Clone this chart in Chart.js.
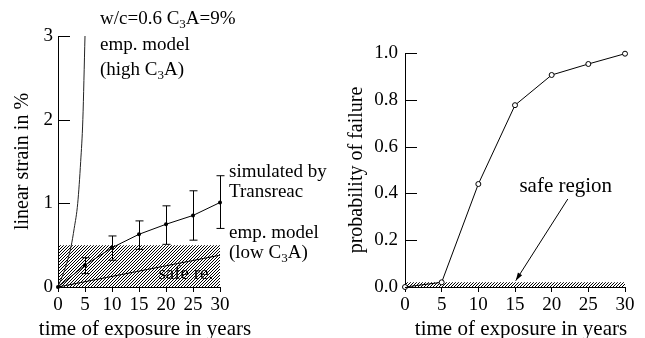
<!DOCTYPE html>
<html>
<head>
<meta charset="utf-8">
<script src="https://cdn.jsdelivr.net/npm/chart.js@4.4.0/dist/chart.umd.min.js"></script>
<style>
  body { margin: 0; background: #fff; }
  #wrap { position: relative; width: 645px; height: 338px; }
  canvas { position: absolute; top: 0; }
  #strainChart { left: 0; }
  #failureChart { left: 330px; }
</style>
</head>
<body>
<div id="wrap">
  <canvas id="strainChart" width="330" height="338"></canvas>
  <canvas id="failureChart" width="315" height="338"></canvas>
</div>
<script>
// exposure times shared by both panels
const years = [0, 5, 10, 15, 20, 25, 30];
const yearTicks = [0, 5, 10, 15, 20, 25, 30];
const xTitle = 'time of exposure in years';

// left panel: linear strain (%)
const simStrain = [0, 0.26, 0.47, 0.63, 0.75, 0.855, 1.01];
const simStrainLow = [0, 0.16, 0.32, 0.45, 0.51, 0.56, 0.70];
const simStrainHigh = [0, 0.35, 0.61, 0.79, 0.97, 1.15, 1.33];
const highC3AYears = [0, 1.2, 2.4, 3.0, 3.65, 4.2, 4.6, 5.0];
const highC3AStrain = [0, 0.2, 0.48, 0.7, 1.0, 1.5, 2.0, 3.0];
const lowC3AYears = [0, 30];
const lowC3AStrain = [0, 0.38];
const strainTicks = [0, 1, 2, 3];
const safeStrain = 0.5;

// right panel: probability of failure
const failProb = [0, 0.02, 0.44, 0.777, 0.906, 0.953, 0.997];
const probTicks = [0, 0.2, 0.4, 0.6, 0.8, 1.0];
const safeProb = 0.02;

const SERIF = '"Liberation Serif", "DejaVu Serif", "Times New Roman", serif';
Chart.defaults.font.family = SERIF;
Chart.defaults.color = '#000';

function pts(xs, ys) {
  return xs.map((x, i) => ({ x: x, y: ys[i] }));
}

// diagonal hatching for the safe regions: one-pixel "/" lines every 3 px
function hatchPattern() {
  const tile = document.createElement('canvas');
  tile.width = 3; tile.height = 3;
  const g = tile.getContext('2d');
  g.fillStyle = '#000';
  for (let i = 0; i < 3; i++) g.fillRect(i, 2 - i, 1, 1);
  return g.createPattern(tile, 'repeat');
}

// text with "3" subscripts (C3A)
function richText(ctx, x, y, segs, size) {
  segs.forEach(([txt, sub]) => {
    ctx.font = (sub ? Math.round(size * 0.7) : size) + 'px ' + SERIF;
    ctx.fillText(txt, x, sub ? y + size * 0.22 : y);
    x += ctx.measureText(txt).width;
  });
}

function xAxis() {
  return {
    type: 'linear', min: 0, max: 30,
    afterBuildTicks: s => { s.ticks = yearTicks.map(v => ({ value: v })); },
    afterFit: s => { s.height = 51; },
    grid: { drawOnChartArea: false, drawTicks: true, tickLength: 5, color: '#000', lineWidth: 1 },
    border: { display: true, color: '#000', width: 1 },
    ticks: { font: { family: SERIF, size: 19 }, padding: 2, maxRotation: 0, autoSkip: false, color: '#000' },
    title: { display: false }
  };
}

// x title drawn by hand so it may run wider than the axis
const xTitlePlugin = {
  id: 'xTitlePlugin',
  afterDraw(chart) {
    const { ctx, chartArea } = chart;
    ctx.save();
    ctx.fillStyle = '#000';
    ctx.font = '21px ' + SERIF;
    ctx.textAlign = 'center';
    ctx.textBaseline = 'alphabetic';
    ctx.fillText(xTitle, (chartArea.left + chartArea.right) / 2 + 6, 335);
    ctx.restore();
  }
};

// y ticks point into the plot
const inwardTicks = {
  id: 'inwardTicks',
  afterDraw(chart) {
    const { ctx, chartArea, scales: { y } } = chart;
    ctx.save();
    ctx.strokeStyle = '#000';
    ctx.lineWidth = 1;
    y.ticks.forEach(t => {
      const py = Math.round(y.getPixelForValue(t.value)) + 0.5;
      ctx.beginPath();
      ctx.moveTo(chartArea.left, py);
      ctx.lineTo(chartArea.left + 12, py);
      ctx.stroke();
    });
    ctx.restore();
  }
};

const errorBars = {
  id: 'errorBars',
  afterDatasetsDraw(chart) {
    const { ctx, scales: { x, y } } = chart;
    ctx.save();
    ctx.strokeStyle = '#000';
    ctx.lineWidth = 1;
    years.forEach((t, i) => {
      if (simStrainHigh[i] === simStrainLow[i]) return;
      const px = Math.round(x.getPixelForValue(t)) + 0.5;
      const top = y.getPixelForValue(simStrainHigh[i]);
      const bot = y.getPixelForValue(simStrainLow[i]);
      ctx.beginPath();
      ctx.moveTo(px, top); ctx.lineTo(px, bot);
      ctx.moveTo(px - 4, top); ctx.lineTo(px + 4, top);
      ctx.moveTo(px - 4, bot); ctx.lineTo(px + 4, bot);
      ctx.stroke();
    });
    ctx.restore();
  }
};

const strainLabels = {
  id: 'strainLabels',
  afterDraw(chart) {
    const { ctx, scales: { x, y } } = chart;
    ctx.save();
    ctx.fillStyle = '#000';
    ctx.textBaseline = 'alphabetic';
    ctx.textAlign = 'left';
    richText(ctx, 100, 24, [['w/c=0.6 C'], ['3', true], ['A=9%']], 19);
    richText(ctx, 100, 50, [['emp. model']], 19);
    richText(ctx, 100, 75, [['(high C'], ['3', true], ['A)']], 19);
    richText(ctx, 229, 177, [['simulated by']], 19);
    richText(ctx, 229, 197, [['Transreac']], 19);
    richText(ctx, 229, 238, [['emp. model']], 19);
    richText(ctx, 229, 258, [['(low C'], ['3', true], ['A)']], 19);
    // label inside the hatched band
    ctx.font = '19px ' + SERIF;
    ctx.fillText('safe re.', x.getPixelForValue(18.6), y.getPixelForValue(0.09));
    ctx.restore();
  }
};

const failureLabels = {
  id: 'failureLabels',
  afterDraw(chart) {
    const { ctx, scales: { x, y } } = chart;
    ctx.save();
    ctx.fillStyle = '#000';
    ctx.strokeStyle = '#000';
    ctx.font = '21px ' + SERIF;
    ctx.textBaseline = 'alphabetic';
    ctx.fillText('safe region', x.getPixelForValue(15.6), y.getPixelForValue(0.407));
    const x0 = x.getPixelForValue(22.2), y0 = y.getPixelForValue(0.376);
    const x1 = x.getPixelForValue(15.1), y1 = y.getPixelForValue(0.027);
    ctx.lineWidth = 1;
    ctx.beginPath(); ctx.moveTo(x0, y0); ctx.lineTo(x1, y1); ctx.stroke();
    const a = Math.atan2(y1 - y0, x1 - x0);
    ctx.beginPath();
    ctx.moveTo(x1, y1);
    ctx.lineTo(x1 - 8 * Math.cos(a) + 2.5 * Math.sin(a), y1 - 8 * Math.sin(a) - 2.5 * Math.cos(a));
    ctx.lineTo(x1 - 8 * Math.cos(a) - 2.5 * Math.sin(a), y1 - 8 * Math.sin(a) + 2.5 * Math.cos(a));
    ctx.closePath();
    ctx.fill();
    ctx.restore();
  }
};

const common = {
  responsive: false,
  animation: false,
  events: [],
  plugins: { legend: { display: false }, tooltip: { enabled: false } }
};

new Chart(document.getElementById('strainChart'), {
  type: 'line',
  data: {
    datasets: [
      {
        data: pts(years, simStrain),
        borderColor: '#000', borderWidth: 1,
        pointRadius: 2, pointBackgroundColor: '#000', pointBorderWidth: 0,
        clip: false
      },
      {
        data: pts(highC3AYears, highC3AStrain),
        borderColor: '#222', borderWidth: 1, pointRadius: 0,
        cubicInterpolationMode: 'monotone', clip: false
      },
      {
        data: pts(lowC3AYears, lowC3AStrain),
        borderColor: '#000', borderWidth: 1, pointRadius: 0
      },
      {
        data: pts([0, 30], [safeStrain, safeStrain]),
        borderWidth: 0, pointRadius: 0,
        fill: 'origin', backgroundColor: hatchPattern()
      }
    ]
  },
  options: Object.assign({}, common, {
    layout: { padding: { top: 36, right: 110, left: 0, bottom: 0 } },
    scales: {
      x: xAxis(),
      y: {
        type: 'linear', min: 0, max: 3,
        afterBuildTicks: s => { s.ticks = strainTicks.map(v => ({ value: v })); },
        afterFit: s => { s.width = 58; },
        grid: { display: false, drawTicks: false },
        border: { display: true, color: '#000', width: 1 },
        ticks: { font: { family: SERIF, size: 19 }, padding: 5, color: '#000' },
        title: { display: true, text: 'linear strain in %', font: { family: SERIF, size: 20, lineHeight: 1 },
                 padding: { top: 13, bottom: 0 }, color: '#000' }
      }
    }
  }),
  plugins: [errorBars, inwardTicks, strainLabels, xTitlePlugin]
});

new Chart(document.getElementById('failureChart'), {
  type: 'line',
  data: {
    datasets: [
      {
        data: pts(years, failProb),
        borderColor: '#000', borderWidth: 1,
        pointRadius: 2.5, pointBackgroundColor: '#fff', pointBorderColor: '#000', pointBorderWidth: 1,
        clip: false
      },
      {
        data: pts([0, 30], [safeProb, safeProb]),
        borderWidth: 0, pointRadius: 0,
        fill: 'origin', backgroundColor: hatchPattern()
      }
    ]
  },
  options: Object.assign({}, common, {
    layout: { padding: { top: 53, right: 20, left: 0, bottom: 0 } },
    scales: {
      x: xAxis(),
      y: {
        type: 'linear', min: 0, max: 1,
        afterBuildTicks: s => { s.ticks = probTicks.map(v => ({ value: v })); },
        afterFit: s => { s.width = 75; },
        grid: { display: false, drawTicks: false },
        border: { display: true, color: '#000', width: 1 },
        ticks: { font: { family: SERIF, size: 19 }, padding: 7, color: '#000', callback: v => v.toFixed(1) },
        title: { display: true, text: 'probability of failure', font: { family: SERIF, size: 20, lineHeight: 1 },
                 padding: { top: 17, bottom: 0 }, color: '#000' }
      }
    }
  }),
  plugins: [inwardTicks, failureLabels, xTitlePlugin]
});
</script>
</body>
</html>
